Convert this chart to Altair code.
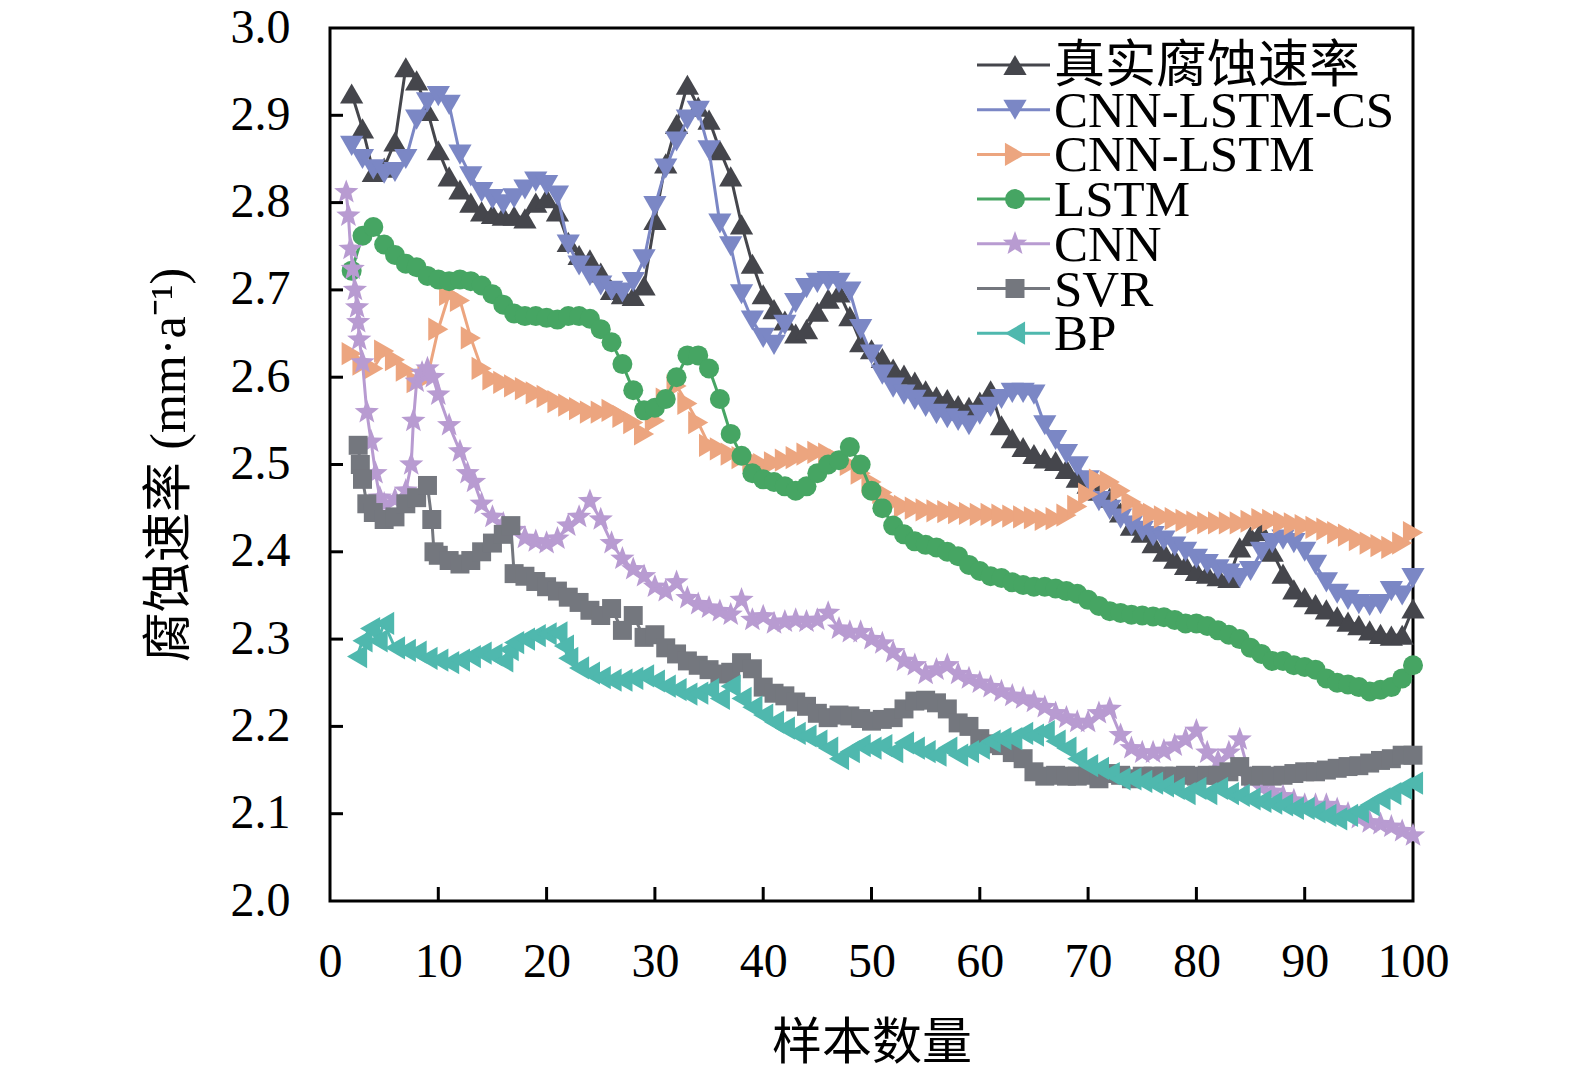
import math
import altair as alt
import pandas as pd

W, H = 1083, 873


def rng(a, b):
    return list(range(a, b + 1))


# ---------------- data ----------------
TRUE_X = rng(2, 100)
TRUE_Y = [2.925, 2.885, 2.835, 2.840, 2.870, 2.955, 2.940, 2.905, 2.860, 2.830,
          2.815, 2.800, 2.790, 2.787, 2.785, 2.785, 2.782, 2.800, 2.805, 2.790,
          2.755, 2.740, 2.735, 2.720, 2.700, 2.695, 2.693, 2.705, 2.780, 2.845,
          2.890, 2.935, 2.910, 2.895, 2.860, 2.830, 2.775, 2.730, 2.695, 2.678,
          2.665, 2.650, 2.655, 2.675, 2.690, 2.697, 2.670, 2.640, 2.632, 2.622,
          2.610, 2.603, 2.595, 2.585, 2.578, 2.575, 2.568, 2.566, 2.572, 2.585,
          2.545, 2.530, 2.520, 2.512, 2.507, 2.504, 2.495, 2.485, 2.478, 2.470,
          2.462, 2.445, 2.430, 2.422, 2.410, 2.400, 2.392, 2.385, 2.378, 2.375,
          2.372, 2.370, 2.405, 2.418, 2.424, 2.400, 2.375, 2.357, 2.348, 2.340,
          2.334, 2.326, 2.320, 2.316, 2.310, 2.306, 2.304, 2.305, 2.335]

CS_X = rng(2, 100)
CS_Y = [2.865, 2.850, 2.838, 2.833, 2.835, 2.850, 2.895, 2.915, 2.922, 2.912,
        2.855, 2.830, 2.812, 2.804, 2.798, 2.805, 2.815, 2.824, 2.820, 2.808,
        2.752, 2.728, 2.716, 2.705, 2.699, 2.697, 2.709, 2.735, 2.796, 2.839,
        2.870, 2.895, 2.905, 2.860, 2.776, 2.750, 2.695, 2.665, 2.645, 2.637,
        2.660, 2.685, 2.702, 2.708, 2.710, 2.708, 2.698, 2.655, 2.626, 2.603,
        2.588, 2.580, 2.574, 2.566, 2.558, 2.553, 2.550, 2.545, 2.557, 2.566,
        2.575, 2.582, 2.582, 2.580, 2.545, 2.528, 2.512, 2.498, 2.482, 2.458,
        2.448, 2.438, 2.430, 2.424, 2.418, 2.413, 2.406, 2.400, 2.392, 2.386,
        2.380, 2.375, 2.370, 2.378, 2.400, 2.410, 2.414, 2.410, 2.400, 2.385,
        2.365, 2.352, 2.345, 2.340, 2.338, 2.340, 2.355, 2.350, 2.370]

CL_X = rng(2, 100)
CL_Y = [2.627, 2.615, 2.610, 2.630, 2.620, 2.608, 2.595, 2.600, 2.655, 2.695,
        2.688, 2.645, 2.610, 2.598, 2.594, 2.590, 2.587, 2.582, 2.578, 2.572,
        2.568, 2.564, 2.560, 2.560, 2.562, 2.555, 2.548, 2.535, 2.550, 2.575,
        2.590, 2.570, 2.548, 2.522, 2.518, 2.512, 2.508, 2.505, 2.500, 2.502,
        2.505, 2.508, 2.512, 2.514, 2.512, 2.505, 2.500, 2.490, 2.480, 2.468,
        2.457, 2.452, 2.450, 2.448, 2.447, 2.446, 2.445, 2.444, 2.443, 2.443,
        2.442, 2.441, 2.440, 2.439, 2.437, 2.438, 2.442, 2.452, 2.466, 2.482,
        2.480, 2.470, 2.457, 2.448, 2.443, 2.440, 2.438, 2.436, 2.434, 2.433,
        2.433, 2.433, 2.433, 2.435, 2.437, 2.436, 2.434, 2.432, 2.430, 2.428,
        2.426, 2.422, 2.419, 2.414, 2.410, 2.407, 2.405, 2.410, 2.422]

LSTM_X = rng(2, 100)
LSTM_Y = [2.722, 2.762, 2.772, 2.752, 2.740, 2.730, 2.726, 2.716, 2.712, 2.710,
          2.712, 2.710, 2.705, 2.695, 2.683, 2.673, 2.670, 2.670, 2.668, 2.666,
          2.670, 2.670, 2.667, 2.655, 2.640, 2.615, 2.585, 2.562, 2.565, 2.575,
          2.600, 2.625, 2.625, 2.610, 2.575, 2.535, 2.510, 2.490, 2.483, 2.480,
          2.475, 2.470, 2.475, 2.490, 2.500, 2.505, 2.520, 2.500, 2.470, 2.450,
          2.430, 2.420, 2.412, 2.408, 2.405, 2.400, 2.395, 2.385, 2.378, 2.372,
          2.370, 2.365, 2.362, 2.360, 2.360, 2.358, 2.355, 2.352, 2.345, 2.338,
          2.332, 2.330, 2.328, 2.327, 2.326, 2.325, 2.322, 2.318, 2.318, 2.315,
          2.310, 2.305, 2.300, 2.290, 2.283, 2.275, 2.275, 2.270, 2.268, 2.265,
          2.255, 2.250, 2.248, 2.245, 2.240, 2.242, 2.245, 2.255, 2.270]

CNN_X = [1.5, 1.7, 1.9, 2.1, 2.3, 2.5, 2.6, 2.7, 3.0, 3.4, 3.8, 4.2, 4.6,
         5, 6, 7, 7.5, 7.7, 8, 8.5, 9, 9.5, 10, 11, 12, 12.7, 13.3] + rng(14, 100)
CNN_Y = [2.812, 2.785, 2.747, 2.724, 2.700, 2.680, 2.663, 2.643, 2.617, 2.560, 2.526, 2.490, 2.462,
         2.455, 2.460, 2.470, 2.500, 2.550, 2.595, 2.605, 2.610, 2.600, 2.580, 2.545, 2.515, 2.490, 2.480,
         2.455, 2.440, 2.432, 2.425, 2.416, 2.412, 2.410, 2.415, 2.430, 2.440,
         2.458, 2.437, 2.410, 2.392, 2.380, 2.372, 2.360, 2.355, 2.365, 2.347,
         2.340, 2.336, 2.332, 2.328, 2.345, 2.322, 2.326, 2.318, 2.320, 2.322,
         2.320, 2.322, 2.330, 2.312, 2.308, 2.308, 2.300, 2.295, 2.285, 2.275,
         2.270, 2.260, 2.265, 2.270, 2.260, 2.255, 2.250, 2.245, 2.240, 2.235,
         2.232, 2.228, 2.222, 2.215, 2.210, 2.205, 2.205, 2.215, 2.220, 2.190,
         2.175, 2.170, 2.170, 2.172, 2.178, 2.185, 2.195, 2.170, 2.160, 2.170,
         2.185, 2.140, 2.130, 2.125, 2.120, 2.115, 2.110, 2.110, 2.110, 2.105,
         2.100, 2.095, 2.090, 2.088, 2.085, 2.080, 2.075]

SVR_X = [2.6, 2.8, 3.0, 3.4, 4, 5, 6, 7, 8, 9, 9.4, 9.6, 10, 11, 12, 13, 14, 15, 16, 16.7] + rng(17, 100)
SVR_Y = [2.522, 2.500, 2.483, 2.455, 2.445, 2.437, 2.440, 2.455, 2.462, 2.476, 2.437, 2.400,
         2.396, 2.390, 2.386, 2.390, 2.400, 2.410, 2.420, 2.430,
         2.375, 2.372, 2.366, 2.360, 2.355, 2.348, 2.342, 2.333, 2.327, 2.335,
         2.310, 2.327, 2.302, 2.305, 2.290, 2.283, 2.275, 2.270, 2.265, 2.260,
         2.262, 2.273, 2.266, 2.245, 2.238, 2.235, 2.228, 2.223, 2.215, 2.210,
         2.213, 2.212, 2.209, 2.206, 2.208, 2.210, 2.220, 2.229, 2.230, 2.227,
         2.220, 2.204, 2.200, 2.186, 2.180, 2.178, 2.170, 2.163, 2.148, 2.143,
         2.144, 2.143, 2.143, 2.144, 2.140, 2.146, 2.144, 2.140, 2.143, 2.143,
         2.143, 2.143, 2.144, 2.143, 2.144, 2.144, 2.148, 2.154, 2.143, 2.144,
         2.143, 2.144, 2.146, 2.148, 2.148, 2.150, 2.152, 2.154, 2.155, 2.158,
         2.161, 2.163, 2.167, 2.167]

BP_X = [2.5, 3, 3.7, 4.4, 5] + rng(6, 16) + [16.5] + rng(17, 21) + [21.6] + rng(22, 100)
BP_Y = [2.280, 2.298, 2.312, 2.298, 2.318,
        2.290, 2.287, 2.285, 2.278, 2.276, 2.273, 2.276, 2.280, 2.284, 2.282, 2.275,
        2.288,
        2.296, 2.300, 2.304, 2.306, 2.307,
        2.292,
        2.278, 2.267, 2.261, 2.256, 2.253, 2.253, 2.255, 2.258, 2.252, 2.246,
        2.242, 2.237, 2.238, 2.242, 2.232, 2.246, 2.232, 2.222, 2.213, 2.205,
        2.198, 2.192, 2.189, 2.183, 2.175, 2.163, 2.171, 2.178, 2.175, 2.178,
        2.171, 2.181, 2.175, 2.171, 2.167, 2.175, 2.167, 2.171, 2.175, 2.183,
        2.186, 2.186, 2.192, 2.190, 2.194, 2.183, 2.175, 2.163, 2.155, 2.152,
        2.146, 2.140, 2.140, 2.137, 2.135, 2.132, 2.129, 2.123, 2.129, 2.123,
        2.129, 2.123, 2.121, 2.117, 2.114, 2.112, 2.110, 2.106, 2.106, 2.102,
        2.098, 2.094, 2.098, 2.102, 2.110, 2.117, 2.123, 2.129, 2.135]

NAMES = ["真实腐蚀速率", "CNN-LSTM-CS", "CNN-LSTM", "LSTM", "CNN", "SVR", "BP"]
X_LABELS = [0, 10, 20, 30, 40, 50, 60, 70, 80, 90, 100]
Y_LABELS = [2.0, 2.1, 2.2, 2.3, 2.4, 2.5, 2.6, 2.7, 2.8, 2.9, 3.0]
X_TICKS = [10, 20, 30, 40, 50, 60, 70, 80, 90]
Y_TICKS = [2.1, 2.2, 2.3, 2.4, 2.5, 2.6, 2.7, 2.8, 2.9]

# ---------------- styles ----------------
STAR = "M" + "L".join(
    f"{(1.0 if k % 2 == 0 else 0.42) * math.cos(math.radians(-90 + 36 * k)):.3f},"
    f"{(1.0 if k % 2 == 0 else 0.42) * math.sin(math.radians(-90 + 36 * k)):.3f}"
    for k in range(10)) + "Z"

STYLES = [
    ("#45464c", "triangle-up", 540),
    ("#7b87c5", "triangle-down", 540),
    ("#eca57f", "triangle-right", 540),
    ("#46a563", "circle", 400),
    ("#b89bd1", STAR, 650),
    ("#74777e", "square", 360),
    ("#4fb8ae", "triangle-left", 540),
]
SERIES = [(TRUE_X, TRUE_Y), (CS_X, CS_Y), (CL_X, CL_Y), (LSTM_X, LSTM_Y),
          (CNN_X, CNN_Y), (SVR_X, SVR_Y), (BP_X, BP_Y)]

SERIF = "Liberation Serif, Noto Sans CJK SC"

xs = alt.Scale(domain=[0, 100], nice=False, zero=False)
ys = alt.Scale(domain=[2.0, 3.0], nice=False, zero=False)

x_axis = alt.Axis(values=X_LABELS, format="d", ticks=False, domain=False,
                  grid=False, labelFont=SERIF, labelFontSize=48, labelColor="black",
                  labelPadding=37, labelFlush=False, labelOverlap=False,
                  title="样本数量", titleFont=SERIF, titleFontSize=50,
                  titleFontWeight="normal", titleColor="black",
                  titleX=W / 2, titleY=142, titleBaseline="middle", titleAlign="center")
y_axis = alt.Axis(values=Y_LABELS, format=".1f",
                  ticks=False, domain=False, grid=False, labelFont=SERIF,
                  labelFontSize=48, labelColor="black", labelPadding=40,
                  labelFlush=False, labelOverlap=False, labelBaseline="middle",
                  title="腐蚀速率 (mm·a⁻¹)", titleFont=SERIF, titleFontSize=50,
                  titleFontWeight="normal", titleColor="black",
                  titleX=-161, titleY=H / 2, titleAngle=270,
                  titleBaseline="middle", titleAlign="center")

layers = []
for (sx, sy), name, (col, shp, sz) in zip(SERIES, NAMES, STYLES):
    assert len(sx) == len(sy), name
    df = pd.DataFrame({"x": sx, "y": sy})
    base = alt.Chart(df).encode(x=alt.X("x:Q", scale=xs, axis=x_axis),
                                y=alt.Y("y:Q", scale=ys, axis=y_axis))
    layers.append(base.mark_line(color=col, strokeWidth=3))
    layers.append(base.mark_point(shape=shp, filled=True, size=sz, color=col,
                                  opacity=1, strokeWidth=0))

# inward ticks
layers.append(alt.Chart(pd.DataFrame({"y": Y_TICKS})).mark_rule(color="black", strokeWidth=3)
              .encode(y=alt.Y("y:Q", scale=ys, axis=y_axis), x=alt.value(0), x2=alt.value(13)))
layers.append(alt.Chart(pd.DataFrame({"x": X_TICKS})).mark_rule(color="black", strokeWidth=3)
              .encode(x=alt.X("x:Q", scale=xs, axis=x_axis), y=alt.value(H), y2=alt.value(H - 14)))

# legend (top right, inside the plot)
one = pd.DataFrame({"a": [0]})
for i, (name, (col, shp, sz)) in enumerate(zip(NAMES, STYLES)):
    ry = 37 + 44.7 * i
    layers.append(alt.Chart(one).mark_rule(color=col, strokeWidth=3)
                  .encode(x=alt.value(647), x2=alt.value(720), y=alt.value(ry)))
    layers.append(alt.Chart(one).mark_point(shape=shp, filled=True, size=sz, color=col,
                                            opacity=1, strokeWidth=0)
                  .encode(x=alt.value(685), y=alt.value(ry)))
    layers.append(alt.Chart(one).mark_text(text=name, font=SERIF, fontSize=51, color="black",
                                           align="left", baseline="middle")
                  .encode(x=alt.value(724), y=alt.value(ry + 2)))

chart = alt.layer(*layers).properties(
    width=W, height=H, autosize="none",
    padding={"left": 322, "top": 20, "right": 130, "bottom": 170},
    background="white",
).configure_view(stroke="black", strokeWidth=3)

chart.save("out.html", embed_options={"renderer": "svg", "actions": False})
